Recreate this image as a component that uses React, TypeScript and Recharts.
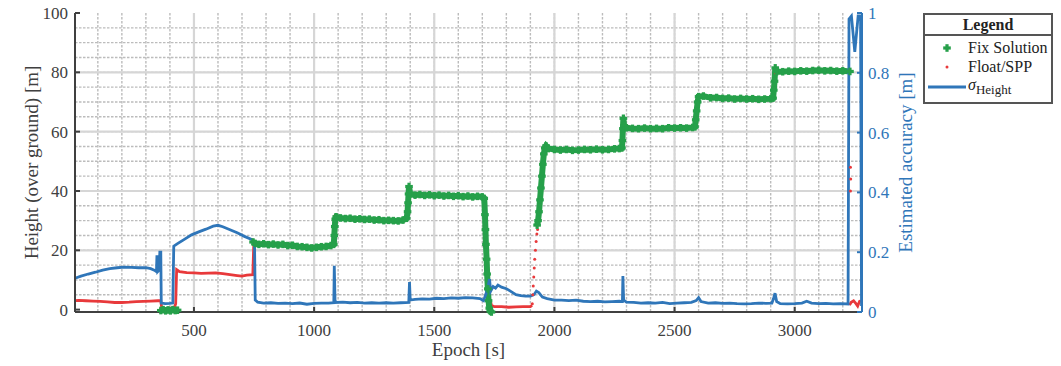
import React from 'react'
import { CartesianGrid, ComposedChart, Line, Scatter, XAxis, YAxis } from 'recharts'

const FONT = '"Liberation Serif", "Times New Roman", serif'
const GREEN = '#26a04a'
const RED = '#e8393b'
const BLUE = '#2f76b9'
const AXIS = '#404040'

const epochTicks = [500, 1000, 1500, 2000, 2500, 3000]
const epochMinor = [100, 200, 300, 400, 500, 600, 700, 800, 900, 1000, 1100, 1200, 1300, 1400, 1500, 1600,
  1700, 1800, 1900, 2000, 2100, 2200, 2300, 2400, 2500, 2600, 2700, 2800, 2900, 3000, 3100, 3200]
const heightTicks = [0, 20, 40, 60, 80, 100]
const heightMinor = [5, 10, 15, 20, 25, 30, 35, 40, 45, 50, 55, 60, 65, 70, 75, 80, 85, 90, 95]
const accuracyTicks = [0, 0.2, 0.4, 0.6, 0.8, 1]

// epoch [s], height [m]
const fixSolution: [number, number | null][] = [
  [362, -0.3], [372, 0], [382, -0.4], [392, -0.1], [402, -0.4], [412, 0], [422, -0.3], [432, -0.2], [433, null],
  [746, 22.8], [755, 22.3], [770, 22], [790, 22.2], [810, 21.9], [830, 22.1], [850, 21.8], [870, 22], [890, 21.6],
  [910, 21.7], [930, 21.3], [950, 21.2], [970, 21], [990, 20.8], [1010, 21], [1030, 21.2], [1050, 21.3], [1070, 21.6],
  [1082, 22], [1084, 25], [1086, 28], [1088, 30.5], [1092, 31.3], [1110, 30.9], [1130, 30.7], [1150, 30.8],
  [1170, 30.5], [1190, 30.6], [1210, 30.4], [1230, 30.5], [1250, 30.2], [1270, 30.3], [1290, 30], [1310, 30.1],
  [1330, 30], [1350, 29.9], [1370, 30.2], [1385, 30.8], [1389, 33], [1391, 36], [1393, 39], [1395, 41.5],
  [1400, 39], [1420, 38.6], [1440, 38.8], [1460, 38.5], [1480, 38.7], [1500, 38.4], [1520, 38.6], [1540, 38.3],
  [1560, 38.5], [1580, 38.2], [1600, 38.4], [1620, 38.1], [1640, 38.3], [1660, 38], [1680, 38.2], [1700, 38],
  [1708, 37.5], [1711, 32], [1713, 27], [1715, 22], [1718, 17], [1720, 12], [1723, 7], [1726, 3], [1729, 0.5],
  [1733, -0.5], [1738, -0.8], [1739, null],
  [1928, 28.5], [1932, 30], [1936, 33], [1940, 37], [1944, 41], [1948, 45], [1952, 49], [1956, 52.5], [1960, 54.5],
  [1965, 55.2], [1975, 54.3], [2000, 54], [2025, 53.8], [2050, 54], [2075, 53.7], [2100, 53.8], [2125, 54],
  [2150, 53.9], [2175, 54.1], [2200, 53.9], [2225, 54], [2250, 54.2], [2270, 54.3], [2281, 54.5], [2283, 57],
  [2285, 61], [2287, 64.5], [2290, 62], [2300, 61.3], [2325, 61.1], [2350, 61], [2375, 61.2], [2400, 61],
  [2425, 61.1], [2450, 61], [2475, 61.3], [2500, 61.2], [2525, 61.3], [2550, 61.2], [2575, 61.4], [2585, 61.6],
  [2588, 64], [2592, 67], [2596, 70], [2600, 71.8], [2620, 72], [2650, 71.4], [2675, 71.5], [2700, 71.2],
  [2725, 71.3], [2750, 71], [2775, 71.2], [2800, 71], [2825, 71.1], [2850, 70.9], [2875, 71], [2900, 71.1],
  [2910, 71.3], [2913, 74], [2916, 77], [2919, 81.5], [2925, 80.2], [2950, 80.2], [2975, 80.4], [3000, 80.3],
  [3025, 80.5], [3050, 80.4], [3075, 80.6], [3100, 80.7], [3125, 80.5], [3150, 80.6], [3175, 80.4], [3200, 80.5],
  [3230, 80.3],
]

const floatSpp: [number, number | null][] = [
  [5, 3], [20, 3.1], [50, 3], [80, 2.9], [110, 2.8], [140, 2.6], [170, 2.4], [200, 2.4], [230, 2.5], [260, 2.7],
  [290, 2.8], [320, 2.9], [350, 3], [362, 3], [366, 0.5], [380, 0.3], [400, 0.5], [418, 0.6], [424, 2], [426, 8],
  [428, 13.5], [440, 12.8], [470, 12.5], [500, 12.4], [530, 12.2], [560, 12.3], [590, 12.4], [620, 12.1],
  [650, 11.8], [680, 11.5], [700, 11.3], [720, 11.6], [745, 11.8], [747, 17], [749, 22], [750, null],
  [1733, 3], [1738, 1.5], [1750, 1], [1780, 1], [1810, 0.8], [1840, 0.9], [1870, 1], [1900, 1], [1907, 1.5],
  [1908, null],
  [3228, 1.5], [3235, 2.5], [3245, 3], [3255, 2], [3262, 1.2], [3270, 2.8], [3276, 3],
]

const floatSppDots: [number, number][] = [
  [1085, 31.5], [1087, 30.8], [1396, 41], [2919, 80.5], [2921, 79.8],
  [1908, 2], [1910, 5], [1912, 8], [1914, 11], [1916, 14], [1918, 17], [1921, 20], [1924, 23], [1927, 25.5],
  [1930, 27], [3232, 48], [3233, 44], [3232, 40],
]

// epoch [s], sigma height [m]
const sigmaHeight: [number, number][] = [
  [5, 0.113], [30, 0.12], [60, 0.127], [90, 0.133], [120, 0.14], [150, 0.145], [180, 0.148], [210, 0.15],
  [240, 0.149], [270, 0.148], [300, 0.148], [320, 0.145], [335, 0.14], [344, 0.135], [346, 0.19], [349, 0.135],
  [355, 0.14], [358, 0.2], [362, 0.2], [364, 0.03], [380, 0.028], [400, 0.029], [412, 0.03], [416, 0.22],
  [430, 0.228], [460, 0.243], [490, 0.258], [520, 0.268], [550, 0.277], [580, 0.287], [600, 0.29], [620, 0.285],
  [650, 0.275], [680, 0.265], [710, 0.253], [740, 0.243], [752, 0.235], [755, 0.04], [765, 0.033], [790, 0.03],
  [820, 0.031], [850, 0.029], [880, 0.03], [910, 0.028], [940, 0.03], [970, 0.026], [1000, 0.029], [1030, 0.03],
  [1060, 0.03], [1082, 0.031], [1084, 0.155], [1087, 0.04], [1090, 0.032], [1120, 0.033], [1150, 0.031],
  [1180, 0.032], [1210, 0.03], [1240, 0.031], [1270, 0.03], [1300, 0.031], [1330, 0.03], [1360, 0.031],
  [1394, 0.032], [1397, 0.1], [1400, 0.04], [1420, 0.042], [1450, 0.044], [1480, 0.043], [1510, 0.046],
  [1540, 0.045], [1570, 0.047], [1600, 0.046], [1630, 0.048], [1660, 0.047], [1690, 0.045], [1705, 0.038],
  [1715, 0.06], [1725, 0.09], [1730, 0.11], [1735, 0.07], [1745, 0.085], [1755, 0.08], [1765, 0.09],
  [1780, 0.083], [1800, 0.078], [1820, 0.068], [1840, 0.058], [1860, 0.055], [1880, 0.053], [1900, 0.053],
  [1915, 0.058], [1925, 0.07], [1935, 0.065], [1950, 0.05], [1970, 0.045], [2000, 0.04], [2030, 0.04],
  [2060, 0.038], [2090, 0.04], [2120, 0.036], [2150, 0.035], [2180, 0.036], [2210, 0.034], [2240, 0.035],
  [2270, 0.036], [2283, 0.035], [2285, 0.12], [2288, 0.04], [2300, 0.033], [2330, 0.032], [2360, 0.03],
  [2390, 0.031], [2420, 0.03], [2450, 0.032], [2480, 0.028], [2510, 0.03], [2540, 0.031], [2570, 0.032],
  [2590, 0.038], [2600, 0.048], [2610, 0.035], [2640, 0.03], [2670, 0.031], [2700, 0.029], [2730, 0.03],
  [2760, 0.028], [2790, 0.027], [2820, 0.028], [2850, 0.03], [2880, 0.029], [2905, 0.03], [2912, 0.045],
  [2918, 0.063], [2925, 0.035], [2940, 0.028], [2970, 0.027], [3000, 0.028], [3030, 0.03], [3050, 0.036],
  [3070, 0.03], [3100, 0.028], [3130, 0.029], [3160, 0.027], [3190, 0.028], [3222, 0.027], [3226, 0.98],
  [3236, 0.99], [3250, 0.87], [3264, 0.99], [3274, 0.99], [3278, 0.02],
]

const toRows = (pts: [number, number | null][]) => pts.map(([x, y]) => ({ x, y }))

function PlusDot({ cx, cy }: any) {
  if (cx == null || cy == null || Number.isNaN(cy)) return null
  return (
    <g fill={GREEN}>
      <rect x={cx - 3.8} y={cy - 1.6} width={7.6} height={3.2} />
      <rect x={cx - 1.6} y={cy - 3.8} width={3.2} height={7.6} />
    </g>
  )
}

function SmallDot({ cx, cy }: any) {
  if (cx == null || cy == null) return null
  return <circle cx={cx} cy={cy} r={1.5} fill={RED} />
}

const tickText = { fontFamily: FONT, fontSize: 17 }

function BottomTick({ x, y, payload }: any) {
  return (
    <g>
      <line x1={x} x2={x} y1={y} y2={y - 5} stroke={AXIS} strokeWidth={2} />
      <text x={x} y={y + 24} textAnchor="middle" fill={AXIS} style={tickText}>{payload.value}</text>
    </g>
  )
}

function TopTick({ x, y }: any) {
  return <line x1={x} x2={x} y1={y} y2={y + 5} stroke={AXIS} strokeWidth={2} />
}

function LeftTick({ x, y, payload }: any) {
  return (
    <g>
      <line x1={x} x2={x + 5} y1={y} y2={y} stroke={AXIS} strokeWidth={2} />
      <text x={x - 7} y={y} dy="0.35em" textAnchor="end" fill={AXIS} style={tickText}>{payload.value}</text>
    </g>
  )
}

function RightTick({ x, y, payload }: any) {
  return (
    <g>
      <line x1={x} x2={x - 5} y1={y} y2={y} stroke={BLUE} strokeWidth={2} />
      <text x={x + 6} y={y} dy="0.35em" textAnchor="start" fill={BLUE} style={tickText}>{payload.value}</text>
    </g>
  )
}

function LegendBox() {
  const row: React.CSSProperties = { display: 'flex', alignItems: 'center', height: 19 }
  const mark: React.CSSProperties = { width: 43, display: 'flex', justifyContent: 'center' }
  return (
    <div style={{ position: 'absolute', left: 923, top: 13, width: 126, border: '2px solid #555', background: '#fff', fontFamily: FONT, color: '#222', fontSize: 16 }}>
      <div style={{ height: 19, lineHeight: '19px', borderBottom: '2px solid #555', textAlign: 'center', fontWeight: 'bold' }}>Legend</div>
      <div style={{ padding: '2px 0 4px 0' }}>
        <div style={row}>
          <div style={mark}><svg width={10} height={10}><PlusDot cx={5} cy={5} /></svg></div>
          <span>Fix Solution</span>
        </div>
        <div style={row}>
          <div style={mark}><svg width={6} height={6}><SmallDot cx={3} cy={3} /></svg></div>
          <span>Float/SPP</span>
        </div>
        <div style={{ ...row, height: 22 }}>
          <div style={mark}><svg width={38} height={4}><line x1={0} x2={38} y1={2} y2={2} stroke={BLUE} strokeWidth={3} /></svg></div>
          <span><i>σ</i><sub style={{ fontSize: 13 }}>Height</sub></span>
        </div>
      </div>
    </div>
  )
}

export default function App() {
  return (
    <div style={{ position: 'absolute', left: 0, top: 0, width: 1061, height: 366, background: '#fff' }}>
      <ComposedChart width={1061} height={366} margin={{ top: 13, right: 139, bottom: 24, left: 0 }}>
        <CartesianGrid
          xAxisId="bottom" yAxisId="left" verticalValues={epochMinor} horizontalValues={heightMinor}
          stroke="#bcbcbc" strokeWidth={1.4} strokeDasharray="2.5 1.5"
        />
        <CartesianGrid
          xAxisId="bottom" yAxisId="left" verticalValues={epochTicks} horizontalValues={[20, 40, 60, 80]}
          stroke="#d6d6d6" strokeWidth={2.2}
        />

        <XAxis
          xAxisId="bottom" dataKey="x" type="number" domain={[5, 3280]} ticks={epochTicks} interval={0}
          height={30} tickSize={0} tickMargin={0} tickLine={false} tick={<BottomTick />}
          axisLine={{ stroke: AXIS, strokeWidth: 2 }}
          label={{ value: 'Epoch [s]', position: 'bottom', offset: 1, style: { fill: AXIS, fontSize: 19, fontFamily: FONT } }}
        />
        <XAxis
          xAxisId="top" orientation="top" dataKey="x" type="number" domain={[5, 3280]} ticks={epochTicks} interval={0}
          height={0} tickSize={0} tickMargin={0} tickLine={false} tick={<TopTick />}
          axisLine={{ stroke: AXIS, strokeWidth: 2 }}
        />
        <YAxis
          yAxisId="left" type="number" domain={[0, 100]} ticks={heightTicks} interval={0} width={75}
          tickSize={0} tickMargin={0} tickLine={false} tick={<LeftTick />}
          axisLine={{ stroke: AXIS, strokeWidth: 2 }}
          label={{ value: 'Height (over ground) [m]', angle: -90, position: 'insideLeft', offset: 31, style: { textAnchor: 'middle', fill: AXIS, fontSize: 19, fontFamily: FONT } }}
        />
        <YAxis
          yAxisId="right" orientation="right" type="number" domain={[0, 1]} ticks={accuracyTicks} interval={0} width={60}
          tickSize={0} tickMargin={0} tickLine={false} tick={<RightTick />}
          axisLine={{ stroke: BLUE, strokeWidth: 2 }}
          label={{ value: 'Estimated accuracy [m]', angle: -90, position: 'insideRight', offset: 17, style: { textAnchor: 'middle', fill: BLUE, fontSize: 19, fontFamily: FONT } }}
        />

        <Line
          xAxisId="bottom" yAxisId="left" data={toRows(floatSpp)} dataKey="y" type="linear" stroke={RED}
          strokeWidth={2.8} dot={false} connectNulls={false} isAnimationActive={false}
        />
        <Scatter
          xAxisId="bottom" yAxisId="left" data={toRows(floatSppDots)} dataKey="y" shape={<SmallDot />}
          isAnimationActive={false}
        />
        <Line
          xAxisId="bottom" yAxisId="left" data={toRows(fixSolution)} dataKey="y" type="linear" stroke={GREEN}
          strokeWidth={6} dot={<PlusDot />} activeDot={false} connectNulls={false} isAnimationActive={false}
        />
        <Line
          xAxisId="bottom" yAxisId="right" data={toRows(sigmaHeight)} dataKey="y" type="linear" stroke={BLUE}
          strokeWidth={2.8} dot={false} isAnimationActive={false}
        />
      </ComposedChart>
      <LegendBox />
    </div>
  )
}
